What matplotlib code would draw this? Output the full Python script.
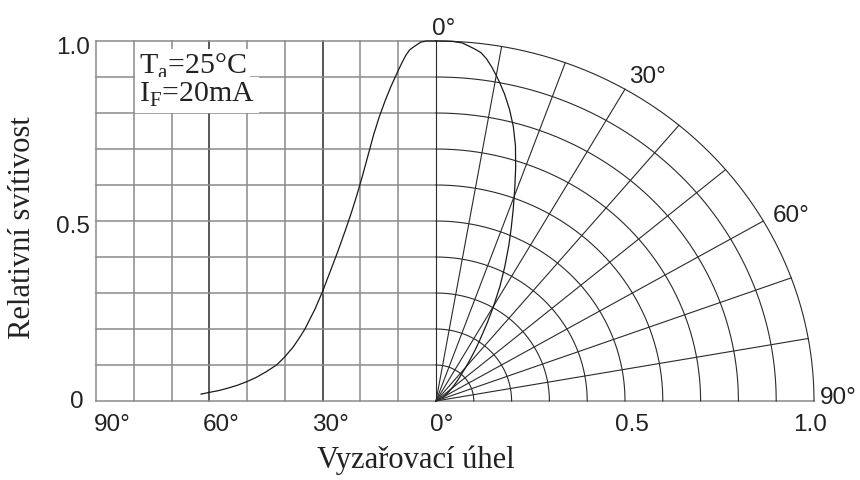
import matplotlib.pyplot as plt
import numpy as np

# radiation pattern (angle in degrees, relative intensity)
angle_deg = [0, 1.5, 2.5, 4, 5, 6, 7, 8, 9, 10, 10.8, 12, 13.5, 15, 16.5, 18,
             19.5, 21, 22.5, 24, 26, 28, 30, 32, 34.7, 36, 37.8, 40, 42.2, 45,
             47.5, 50, 52.5, 55, 57.5, 60, 62.2]
intensity = [1.0, 1.0, 1.0, 0.997, 0.99, 0.983, 0.975, 0.96, 0.94, 0.918, 0.9,
             0.872, 0.833, 0.79, 0.74, 0.682, 0.624, 0.57, 0.52, 0.474, 0.415,
             0.36, 0.305, 0.256, 0.2, 0.178, 0.15, 0.123, 0.1, 0.081, 0.066,
             0.054, 0.044, 0.036, 0.029, 0.024, 0.019]

left_angle_ticks = [90, 60, 30]
right_radius_ticks = [0.5, 1.0]
intensity_ticks = [0, 0.5, 1.0]
intensity_labels = ["0", "0.5", "1.0"]
polar_angle_labels = ["0°", "30°", "60°", "90°"]

grid_step_deg = 10
grid_step_r = 0.1

SANS = "Liberation Sans"
SERIF = "Liberation Serif"
GRAY = "#8a8a8a"
DARK = "#2a2a2a"

fig = plt.figure(figsize=(8.6, 4.8), dpi=100)
ax_l = fig.add_axes([96 / 860, 79 / 480, 340 / 860, 360 / 480])
ax_r = fig.add_axes([436 / 860, 79 / 480, 378 / 860, 360 / 480])

for ax in (ax_l, ax_r):
    ax.set_ylim(0, 1.0)
    ax.axis("off")
ax_l.set_xlim(90, 0)
ax_r.set_xlim(0, 1.0)

# left cartesian grid
for a in np.arange(90, 0, -grid_step_deg):
    col = DARK if a in (60, 30) else GRAY
    ax_l.plot([a, a], [0, 1.0], color=col, lw=1.1, clip_on=False, zorder=1)
for v in np.arange(1, 11) * grid_step_r:
    ax_l.plot([90, 0], [v, v], color=GRAY, lw=1.1, clip_on=False, zorder=1)
ax_l.plot([90, 0], [0, 0], color=GRAY, lw=1.1, clip_on=False, zorder=1)
ax_r.plot([0, 1.0], [0, 0], color=GRAY, lw=1.1, clip_on=False, zorder=1)

# right polar grid (quarter circle)
th = np.radians(np.linspace(0, 90, 200))
for r in np.arange(1, 11) * grid_step_r:
    ax_r.plot(r * np.sin(th), r * np.cos(th), color=DARK, lw=0.8,
              clip_on=False, zorder=1)
for a in range(0, 90, grid_step_deg):
    t = np.radians(a)
    ax_r.plot([0, np.sin(t)], [0, np.cos(t)], color=DARK, lw=0.8,
              clip_on=False, zorder=1)

# curves
ang = np.array(angle_deg)
inten = np.array(intensity)
ax_l.plot(ang, inten, color="#1a1a1a", lw=0.9, clip_on=False, zorder=3)
ax_r.plot(inten * np.sin(np.radians(ang)), inten * np.cos(np.radians(ang)),
          color="#1a1a1a", lw=0.9, clip_on=False, zorder=3)

# tick labels
ylab_x = [93.4, 91.5, 91.5]
ylab_y = [-0.019, 0.467, 0.9625]
for lab, xx, yy in zip(intensity_labels, ylab_x, ylab_y):
    ax_l.text(xx, yy, lab, ha="right", va="baseline", fontsize=17.5,
              family=SANS, color="#222222")

bot_y = -0.084
for a, xx in zip(left_angle_ticks, [85.7, 56.9, 27.8]):
    ax_l.text(xx, bot_y, f"{a}°", ha="center", va="baseline", fontsize=17.5,
              family=SANS, color="#222222", clip_on=False)
ax_r.text(0.015, bot_y, "0°", ha="center", va="baseline", fontsize=17.5,
          family=SANS, color="#222222")
for r, xx in zip(right_radius_ticks, [0.518, 0.989]):
    ax_r.text(xx, bot_y, f"{r:.1f}", ha="center", va="baseline", fontsize=17.5,
              family=SANS, color="#222222")

# polar angle labels
pol_pos = [(0.02, 1.017, "center"), (0.56, 0.882, "center"),
           (0.94, 0.498, "center"), (1.016, -0.007, "left")]
for lab, (xx, yy, ha) in zip(polar_angle_labels, pol_pos):
    ax_r.text(xx, yy, lab, ha=ha, va="baseline", fontsize=17.5, family=SANS,
              color="#222222", clip_on=False)

# condition box
box = dict(facecolor="white", edgecolor="none", pad=2.5)
ax_l.text(78.6, 0.908, r"T$_\mathregular{a}$=25°C", ha="left", va="baseline",
          fontsize=21.5, family=SERIF, color="#222222", bbox=box, zorder=4)
ax_l.text(78.6, 0.831, r"I$_\mathregular{F}$=20mA", ha="left", va="baseline",
          fontsize=21.5, family=SERIF, color="#222222", bbox=box, zorder=4)

# axis titles
fig.text(416 / 860, (480 - 468) / 480, "Vyzařovací úhel", ha="center",
         va="baseline", fontsize=22, family=SERIF, color="#222222")
fig.text(23 / 860, (480 - 228) / 480, "Relativní svítivost", rotation=90,
         ha="center", va="center", fontsize=22, family=SERIF, color="#222222")

fig.savefig("out.png", dpi=100)
